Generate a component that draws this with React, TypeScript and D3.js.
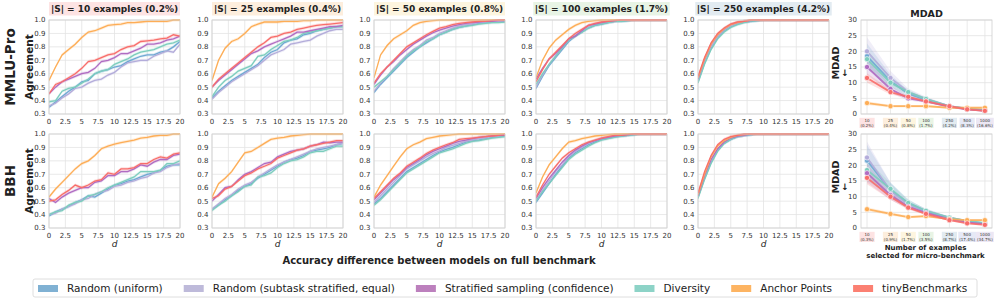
import React, { useEffect, useRef } from 'react';
import * as d3 from 'd3';

// series order: uniform, subtask stratified, stratified (confidence), diversity, anchor points, tinyBenchmarks
const seriesNames = [
  'Random (uniform)',
  'Random (subtask stratified, equal)',
  'Stratified sampling (confidence)',
  'Diversity',
  'Anchor Points',
  'tinyBenchmarks',
];
const swatchColors = ['#80b1d3', '#bebada', '#bc80bd', '#8dd3c7', '#fdb462', '#fb8072'];
const lineColors = ['#6fa8d3', '#b3acda', '#b06cc2', '#7ccdbd', '#fdad56', '#f86d6a'];
const drawOrder = [0, 1, 3, 2, 4, 5];

const dGrid = [0, 1, 2, 3, 4, 5, 6, 7, 8, 9, 10, 11, 12, 13, 14, 15, 16, 17, 18, 19, 20];
const dTicks = [0, 2.5, 5, 7.5, 10, 12.5, 15, 17.5, 20];
const agreementTicks = [0.3, 0.4, 0.5, 0.6, 0.7, 0.8, 0.9, 1.0];
const agreementSpread = 0.012;

const sizes = [10, 25, 50, 100, 250, 500, 1000];
const mmluPct = ['0.2%', '0.4%', '0.8%', '1.7%', '4.2%', '8.3%', '16.6%'];
const bbhPct = ['0.3%', '0.9%', '1.7%', '3.5%', '8.7%', '17.4%', '34.7%'];
const sizeBg = ['#fde3e3', '#fdeedd', '#fdf5df', '#e8f4e5', '#e2ebf1', '#e6e9f6', '#ece7f4'];
const mdadTicks = [0, 5, 10, 15, 20, 25, 30];

// MMLU-Pro agreement curves
const mmlu10 = [
  [0.35, 0.39, 0.43, 0.47, 0.5, 0.54, 0.55, 0.6, 0.62, 0.63, 0.65, 0.66, 0.69, 0.71, 0.73, 0.74, 0.74, 0.76, 0.77, 0.8, 0.84],
  [0.36, 0.38, 0.42, 0.45, 0.49, 0.5, 0.53, 0.55, 0.56, 0.59, 0.61, 0.65, 0.68, 0.69, 0.7, 0.7, 0.73, 0.75, 0.77, 0.76, 0.82],
  [0.45, 0.5, 0.54, 0.56, 0.58, 0.6, 0.61, 0.64, 0.69, 0.7, 0.72, 0.75, 0.75, 0.77, 0.79, 0.82, 0.82, 0.83, 0.85, 0.86, 0.88],
  [0.39, 0.4, 0.47, 0.49, 0.5, 0.53, 0.56, 0.6, 0.62, 0.63, 0.67, 0.69, 0.71, 0.74, 0.76, 0.77, 0.78, 0.8, 0.82, 0.83, 0.85],
  [0.55, 0.65, 0.74, 0.78, 0.82, 0.87, 0.91, 0.92, 0.94, 0.96, 0.965, 0.97, 0.98, 0.98, 0.985, 0.99, 0.99, 0.99, 0.99, 1.0, 1.0],
  [0.45, 0.52, 0.54, 0.57, 0.6, 0.64, 0.69, 0.7, 0.72, 0.74, 0.75, 0.78, 0.8, 0.81, 0.84, 0.845, 0.85, 0.86, 0.865, 0.89, 0.88],
];
const mmlu25 = [
  [0.42, 0.47, 0.51, 0.55, 0.58, 0.61, 0.64, 0.67, 0.72, 0.76, 0.78, 0.83, 0.85, 0.86, 0.89, 0.9, 0.92, 0.93, 0.94, 0.95, 0.95],
  [0.41, 0.46, 0.5, 0.54, 0.57, 0.6, 0.63, 0.66, 0.7, 0.74, 0.76, 0.78, 0.82, 0.83, 0.84, 0.85, 0.88, 0.9, 0.92, 0.93, 0.93],
  [0.5, 0.55, 0.59, 0.63, 0.67, 0.71, 0.75, 0.77, 0.8, 0.82, 0.84, 0.86, 0.88, 0.91, 0.91, 0.92, 0.93, 0.94, 0.95, 0.95, 0.96],
  [0.43, 0.5, 0.55, 0.58, 0.62, 0.64, 0.66, 0.73, 0.74, 0.78, 0.81, 0.84, 0.85, 0.87, 0.9, 0.91, 0.92, 0.93, 0.94, 0.95, 0.95],
  [0.55, 0.7, 0.79, 0.84, 0.86, 0.9, 0.95, 0.97, 0.985, 0.985, 0.985, 0.99, 0.99, 0.99, 0.995, 0.995, 1.0, 1.0, 1.0, 1.0, 1.0],
  [0.5, 0.56, 0.6, 0.64, 0.68, 0.72, 0.76, 0.8, 0.83, 0.87, 0.88, 0.9, 0.91, 0.93, 0.94, 0.95, 0.96, 0.965, 0.97, 0.975, 0.98],
];
const mmlu50 = [
  [0.46, 0.52, 0.57, 0.62, 0.67, 0.72, 0.76, 0.8, 0.83, 0.86, 0.89, 0.91, 0.93, 0.945, 0.955, 0.965, 0.975, 0.98, 0.985, 0.99, 0.99],
  [0.47, 0.53, 0.58, 0.64, 0.69, 0.74, 0.78, 0.81, 0.85, 0.87, 0.9, 0.92, 0.94, 0.955, 0.965, 0.97, 0.98, 0.985, 0.99, 0.99, 0.99],
  [0.52, 0.59, 0.65, 0.69, 0.74, 0.78, 0.82, 0.85, 0.88, 0.905, 0.925, 0.94, 0.955, 0.965, 0.975, 0.98, 0.985, 0.99, 0.99, 0.995, 0.995],
  [0.5, 0.54, 0.58, 0.63, 0.68, 0.73, 0.77, 0.8, 0.84, 0.86, 0.89, 0.91, 0.93, 0.945, 0.955, 0.96, 0.97, 0.975, 0.98, 0.98, 0.985],
  [0.57, 0.74, 0.81, 0.86, 0.89, 0.92, 0.96, 0.98, 0.99, 0.995, 1.0, 1.0, 1.0, 1.0, 1.0, 1.0, 1.0, 1.0, 1.0, 1.0, 1.0],
  [0.53, 0.6, 0.65, 0.7, 0.75, 0.8, 0.83, 0.86, 0.89, 0.915, 0.94, 0.95, 0.965, 0.975, 0.98, 0.985, 0.99, 0.99, 0.995, 1.0, 1.0],
];
const mmlu100 = [
  [0.49, 0.58, 0.66, 0.72, 0.78, 0.84, 0.88, 0.91, 0.94, 0.96, 0.97, 0.98, 0.99, 0.99, 0.995, 1.0, 1.0, 1.0, 1.0, 1.0, 1.0],
  [0.5, 0.59, 0.67, 0.73, 0.79, 0.85, 0.88, 0.92, 0.95, 0.965, 0.975, 0.985, 0.99, 0.995, 1.0, 1.0, 1.0, 1.0, 1.0, 1.0, 1.0],
  [0.56, 0.64, 0.71, 0.75, 0.8, 0.86, 0.88, 0.92, 0.96, 0.97, 0.98, 0.99, 0.995, 1.0, 1.0, 1.0, 1.0, 1.0, 1.0, 1.0, 1.0],
  [0.52, 0.6, 0.67, 0.73, 0.79, 0.85, 0.88, 0.91, 0.94, 0.96, 0.97, 0.98, 0.99, 0.99, 0.995, 1.0, 1.0, 1.0, 1.0, 1.0, 1.0],
  [0.57, 0.7, 0.79, 0.85, 0.89, 0.93, 0.96, 0.98, 0.99, 0.995, 1.0, 1.0, 1.0, 1.0, 1.0, 1.0, 1.0, 1.0, 1.0, 1.0, 1.0],
  [0.54, 0.63, 0.71, 0.76, 0.81, 0.86, 0.9, 0.93, 0.96, 0.975, 0.985, 0.99, 0.995, 1.0, 1.0, 1.0, 1.0, 1.0, 1.0, 1.0, 1.0],
];
const mmlu250 = [
  [0.54, 0.68, 0.79, 0.87, 0.92, 0.95, 0.97, 0.985, 0.99, 0.995, 1.0, 1.0, 1.0, 1.0, 1.0, 1.0, 1.0, 1.0, 1.0, 1.0, 1.0],
  [0.55, 0.69, 0.8, 0.875, 0.925, 0.955, 0.975, 0.985, 0.995, 1.0, 1.0, 1.0, 1.0, 1.0, 1.0, 1.0, 1.0, 1.0, 1.0, 1.0, 1.0],
  [0.56, 0.71, 0.82, 0.89, 0.935, 0.965, 0.98, 0.99, 0.995, 1.0, 1.0, 1.0, 1.0, 1.0, 1.0, 1.0, 1.0, 1.0, 1.0, 1.0, 1.0],
  [0.53, 0.67, 0.78, 0.86, 0.91, 0.945, 0.965, 0.98, 0.99, 0.995, 1.0, 1.0, 1.0, 1.0, 1.0, 1.0, 1.0, 1.0, 1.0, 1.0, 1.0],
  [0.57, 0.71, 0.82, 0.89, 0.935, 0.965, 0.98, 0.99, 1.0, 1.0, 1.0, 1.0, 1.0, 1.0, 1.0, 1.0, 1.0, 1.0, 1.0, 1.0, 1.0],
  [0.58, 0.72, 0.83, 0.9, 0.94, 0.97, 0.985, 0.99, 1.0, 1.0, 1.0, 1.0, 1.0, 1.0, 1.0, 1.0, 1.0, 1.0, 1.0, 1.0, 1.0],
];

// BBH agreement curves
const bbh10 = [
  [0.39, 0.42, 0.44, 0.46, 0.49, 0.51, 0.54, 0.53, 0.56, 0.59, 0.62, 0.63, 0.65, 0.66, 0.68, 0.7, 0.71, 0.73, 0.76, 0.77, 0.77],
  [0.4, 0.41, 0.44, 0.46, 0.48, 0.51, 0.52, 0.55, 0.57, 0.58, 0.61, 0.62, 0.64, 0.65, 0.67, 0.68, 0.71, 0.72, 0.75, 0.77, 0.78],
  [0.52, 0.49, 0.53, 0.56, 0.58, 0.6, 0.6, 0.64, 0.65, 0.69, 0.69, 0.72, 0.72, 0.74, 0.77, 0.76, 0.79, 0.81, 0.81, 0.84, 0.85],
  [0.4, 0.42, 0.43, 0.47, 0.49, 0.5, 0.54, 0.55, 0.57, 0.6, 0.62, 0.64, 0.66, 0.68, 0.72, 0.72, 0.72, 0.73, 0.78, 0.78, 0.8],
  [0.53, 0.59, 0.64, 0.69, 0.74, 0.78, 0.8, 0.84, 0.89, 0.91, 0.925, 0.935, 0.945, 0.955, 0.97, 0.975, 0.985, 0.99, 0.99, 1.0, 1.0],
  [0.5, 0.51, 0.55, 0.58, 0.62, 0.6, 0.62, 0.65, 0.66, 0.71, 0.7, 0.74, 0.74, 0.75, 0.78, 0.78, 0.81, 0.83, 0.82, 0.85, 0.86],
];
const bbh25 = [
  [0.44, 0.47, 0.51, 0.54, 0.58, 0.61, 0.63, 0.67, 0.7, 0.73, 0.76, 0.79, 0.81, 0.82, 0.84, 0.87, 0.88, 0.89, 0.9, 0.92, 0.93],
  [0.44, 0.48, 0.52, 0.55, 0.59, 0.62, 0.64, 0.68, 0.71, 0.74, 0.77, 0.79, 0.81, 0.83, 0.85, 0.87, 0.89, 0.9, 0.91, 0.92, 0.93],
  [0.5, 0.55, 0.6, 0.61, 0.66, 0.7, 0.72, 0.75, 0.78, 0.79, 0.83, 0.85, 0.87, 0.88, 0.89, 0.91, 0.92, 0.94, 0.935, 0.94, 0.94],
  [0.43, 0.47, 0.5, 0.54, 0.57, 0.61, 0.62, 0.68, 0.69, 0.71, 0.75, 0.78, 0.8, 0.81, 0.83, 0.86, 0.87, 0.87, 0.89, 0.91, 0.91],
  [0.53, 0.63, 0.67, 0.72, 0.79, 0.86, 0.87, 0.9, 0.93, 0.96, 0.97, 0.975, 0.985, 0.99, 0.995, 1.0, 1.0, 1.0, 1.0, 1.0, 1.0],
  [0.52, 0.54, 0.59, 0.61, 0.65, 0.69, 0.71, 0.74, 0.76, 0.78, 0.82, 0.84, 0.86, 0.88, 0.89, 0.91, 0.92, 0.93, 0.94, 0.95, 0.95],
];
const bbh50 = [
  [0.48, 0.52, 0.57, 0.62, 0.67, 0.72, 0.75, 0.78, 0.81, 0.84, 0.865, 0.885, 0.9, 0.92, 0.94, 0.95, 0.955, 0.965, 0.975, 0.98, 0.985],
  [0.49, 0.54, 0.59, 0.64, 0.69, 0.74, 0.77, 0.8, 0.83, 0.855, 0.875, 0.9, 0.915, 0.93, 0.945, 0.955, 0.965, 0.97, 0.98, 0.985, 0.99],
  [0.51, 0.56, 0.61, 0.66, 0.7, 0.75, 0.78, 0.81, 0.845, 0.87, 0.89, 0.91, 0.93, 0.945, 0.955, 0.965, 0.975, 0.98, 0.985, 0.99, 0.99],
  [0.47, 0.51, 0.56, 0.61, 0.66, 0.71, 0.74, 0.77, 0.8, 0.83, 0.86, 0.875, 0.89, 0.91, 0.93, 0.945, 0.95, 0.96, 0.97, 0.975, 0.98],
  [0.53, 0.62, 0.69, 0.76, 0.83, 0.89, 0.92, 0.94, 0.965, 0.975, 0.985, 0.99, 0.995, 1.0, 1.0, 1.0, 1.0, 1.0, 1.0, 1.0, 1.0],
  [0.52, 0.57, 0.62, 0.67, 0.71, 0.76, 0.79, 0.82, 0.855, 0.88, 0.9, 0.92, 0.935, 0.96, 0.965, 0.97, 0.975, 0.98, 0.985, 0.99, 0.995],
];
const bbh100 = [
  [0.49, 0.56, 0.63, 0.7, 0.76, 0.82, 0.86, 0.89, 0.92, 0.94, 0.96, 0.97, 0.98, 0.985, 0.99, 0.995, 1.0, 1.0, 1.0, 1.0, 1.0],
  [0.5, 0.58, 0.65, 0.72, 0.77, 0.83, 0.87, 0.9, 0.93, 0.95, 0.965, 0.975, 0.985, 0.99, 0.995, 1.0, 1.0, 1.0, 1.0, 1.0, 1.0],
  [0.52, 0.6, 0.67, 0.73, 0.79, 0.84, 0.88, 0.91, 0.935, 0.95, 0.965, 0.975, 0.985, 0.99, 0.995, 1.0, 1.0, 1.0, 1.0, 1.0, 1.0],
  [0.5, 0.57, 0.63, 0.69, 0.75, 0.81, 0.85, 0.88, 0.91, 0.935, 0.955, 0.965, 0.975, 0.985, 0.99, 0.995, 1.0, 1.0, 1.0, 1.0, 1.0],
  [0.56, 0.68, 0.77, 0.83, 0.89, 0.94, 0.95, 0.965, 0.975, 0.985, 0.99, 0.995, 1.0, 1.0, 1.0, 1.0, 1.0, 1.0, 1.0, 1.0, 1.0],
  [0.53, 0.62, 0.7, 0.76, 0.82, 0.86, 0.89, 0.92, 0.94, 0.955, 0.97, 0.98, 0.99, 0.99, 0.995, 1.0, 1.0, 1.0, 1.0, 1.0, 1.0],
];
const bbh250 = [
  [0.53, 0.67, 0.79, 0.88, 0.93, 0.96, 0.98, 0.99, 0.995, 1.0, 1.0, 1.0, 1.0, 1.0, 1.0, 1.0, 1.0, 1.0, 1.0, 1.0, 1.0],
  [0.53, 0.68, 0.8, 0.88, 0.94, 0.965, 0.98, 0.99, 0.995, 1.0, 1.0, 1.0, 1.0, 1.0, 1.0, 1.0, 1.0, 1.0, 1.0, 1.0, 1.0],
  [0.54, 0.69, 0.81, 0.89, 0.94, 0.97, 0.985, 0.99, 1.0, 1.0, 1.0, 1.0, 1.0, 1.0, 1.0, 1.0, 1.0, 1.0, 1.0, 1.0, 1.0],
  [0.52, 0.66, 0.78, 0.87, 0.93, 0.96, 0.98, 0.99, 0.995, 1.0, 1.0, 1.0, 1.0, 1.0, 1.0, 1.0, 1.0, 1.0, 1.0, 1.0, 1.0],
  [0.55, 0.7, 0.83, 0.91, 0.95, 0.975, 0.99, 0.995, 1.0, 1.0, 1.0, 1.0, 1.0, 1.0, 1.0, 1.0, 1.0, 1.0, 1.0, 1.0, 1.0],
  [0.56, 0.72, 0.84, 0.92, 0.96, 0.98, 0.99, 1.0, 1.0, 1.0, 1.0, 1.0, 1.0, 1.0, 1.0, 1.0, 1.0, 1.0, 1.0, 1.0, 1.0],
];

// MDAD vs number of examples
const mmluMdad = [
  [18.5, 10.5, 6.5, 4.5, 2.5, 1.6, 1.1],
  [20, 11.5, 7, 4.8, 2.5, 1.8, 1.2],
  [15, 8, 5, 4, 2.3, 1.5, 1.0],
  [17.5, 10, 7, 4.8, 2.4, 1.7, 1.2],
  [3.5, 2.5, 2.5, 2.5, 2.0, 2.0, 2.0],
  [11.5, 7, 5.5, 4, 2.5, 1.5, 1.0],
];
const mmluMdadSpread = [
  [4, 2, 1, 0.6, 0.3, 0.2, 0.15],
  [4.5, 2.2, 1.1, 0.7, 0.3, 0.2, 0.15],
  [2.5, 1.2, 0.7, 0.4, 0.2, 0.15, 0.1],
  [3, 1.5, 0.8, 0.5, 0.3, 0.2, 0.15],
  [0.6, 0.4, 0.4, 0.4, 0.3, 0.3, 0.3],
  [1.5, 0.8, 0.5, 0.4, 0.2, 0.15, 0.1],
];
const bbhMdad = [
  [21.5, 12, 8, 5.3, 3.2, 2.0, 1.3],
  [22.5, 12, 7.5, 5.5, 3.3, 2.2, 1.5],
  [17.5, 10.5, 6.8, 4.8, 2.8, 1.8, 1.2],
  [18.5, 12.5, 8, 5.5, 3.3, 2.3, 1.6],
  [6, 4.5, 3.5, 3.8, 2.8, 2.5, 2.5],
  [16, 10, 6.5, 4.5, 2.5, 1.5, 1.0],
];
const bbhMdadSpread = [
  [5, 2.5, 1.2, 0.7, 0.4, 0.25, 0.15],
  [5, 2.5, 1.2, 0.7, 0.4, 0.25, 0.15],
  [3, 1.5, 0.8, 0.5, 0.3, 0.2, 0.1],
  [3.5, 1.8, 1, 0.6, 0.35, 0.25, 0.15],
  [0.6, 0.5, 0.4, 0.4, 0.3, 0.3, 0.3],
  [2, 1, 0.6, 0.4, 0.25, 0.15, 0.1],
];

const rows = [
  { name: 'MMLU-Pro', panels: [mmlu10, mmlu25, mmlu50, mmlu100, mmlu250], mdad: mmluMdad, spread: mmluMdadSpread, pct: mmluPct },
  { name: 'BBH', panels: [bbh10, bbh25, bbh50, bbh100, bbh250], mdad: bbhMdad, spread: bbhMdadSpread, pct: bbhPct },
];

const FONT = 'DejaVu Sans, sans-serif';
const panelLeft = [49, 212, 374, 536, 698];
const panelW = 131;
const panelH = 94;
const rowTop = [20, 134];
const mdadLeft = 861;
const gridColor = '#e3e3e3';
const spineColor = '#d0d0d0';
const tickColor = '#333';

const App = () => {
  const ref = useRef<SVGSVGElement>(null);

  useEffect(() => {
    document.body.style.margin = '0';
    const svg = d3.select(ref.current);
    svg.selectAll('*').remove();

    const defs = svg.append('defs');

    rows.forEach((row, r) => {
      const top = rowTop[r];
      const bottom = top + panelH;

      // agreement panels
      row.panels.forEach((data, c) => {
        const left = panelLeft[c];
        const x = d3.scaleLinear().domain([0, 20]).range([left, left + panelW]);
        const y = d3.scaleLinear().domain([0.3, 1.0]).range([bottom, top]);
        const g = svg.append('g');

        g.selectAll('line.gx').data(dTicks).enter().append('line')
          .attr('x1', d => x(d)).attr('x2', d => x(d)).attr('y1', top).attr('y2', bottom)
          .attr('stroke', gridColor).attr('stroke-width', 0.8);
        g.selectAll('line.gy').data(agreementTicks).enter().append('line')
          .attr('x1', left).attr('x2', left + panelW).attr('y1', d => y(d)).attr('y2', d => y(d))
          .attr('stroke', gridColor).attr('stroke-width', 0.8);

        const clipId = `clip-${r}-${c}`;
        defs.append('clipPath').attr('id', clipId).append('rect')
          .attr('x', left).attr('y', top - 1).attr('width', panelW).attr('height', panelH + 1);
        const lines = g.append('g').attr('clip-path', `url(#${clipId})`);

        const area = d3.area<number>()
          .x((_, j) => x(dGrid[j]))
          .y0(v => y(v - agreementSpread))
          .y1(v => y(v + agreementSpread));
        const line = d3.line<number>().x((_, j) => x(dGrid[j])).y(v => y(v));

        drawOrder.forEach(i => {
          lines.append('path').attr('d', area(data[i]) as string)
            .attr('fill', lineColors[i]).attr('opacity', 0.22);
        });
        drawOrder.forEach(i => {
          lines.append('path').attr('d', line(data[i]) as string)
            .attr('fill', 'none').attr('stroke', lineColors[i]).attr('stroke-width', 1.3);
        });

        g.append('rect').attr('x', left).attr('y', top).attr('width', panelW).attr('height', panelH)
          .attr('fill', 'none').attr('stroke', spineColor).attr('stroke-width', 0.8);

        g.selectAll('text.ty').data(agreementTicks).enter().append('text')
          .attr('x', left - 3.5).attr('y', d => y(d)).attr('dy', '0.35em')
          .attr('text-anchor', 'end').attr('font-family', FONT).attr('font-size', 7)
          .attr('fill', tickColor).text(d => d3.format('.1f')(d));
        g.selectAll('text.tx').data(dTicks).enter().append('text')
          .attr('x', d => x(d)).attr('y', bottom + 9.5)
          .attr('text-anchor', 'middle').attr('font-family', FONT).attr('font-size', 7)
          .attr('fill', tickColor).text(d => String(d));

        if (r === 1) {
          g.append('text').attr('x', left + panelW / 2).attr('y', bottom + 18.5)
            .attr('text-anchor', 'middle').attr('font-family', FONT).attr('font-size', 9)
            .attr('font-style', 'italic').attr('fill', '#222').text('d');
        }

        if (r === 0) {
          const cx = left + panelW / 2;
          const box = g.append('rect').attr('fill', sizeBg[c]);
          const t = g.append('text').attr('x', cx).attr('y', 12)
            .attr('text-anchor', 'middle').attr('font-family', FONT).attr('font-size', 9)
            .attr('font-weight', 'bold').attr('fill', '#222')
            .text(`|S| = ${sizes[c]} examples (${row.pct[c]})`);
          const bb = (t.node() as SVGTextElement).getBBox();
          const bw = Math.max(bb.width + 3, panelW);
          box.attr('x', cx - bw / 2).attr('y', 2).attr('width', bw).attr('height', 13.5);
        }
      });

      // row labels
      const cy = top + panelH / 2;
      svg.append('text').attr('transform', `translate(15,${cy}) rotate(-90)`)
        .attr('text-anchor', 'middle').attr('font-family', FONT).attr('font-size', 13.5)
        .attr('font-weight', 'bold').attr('fill', '#222').text(row.name);
      svg.append('text').attr('transform', `translate(33,${cy}) rotate(-90)`)
        .attr('text-anchor', 'middle').attr('font-family', FONT).attr('font-size', 10.5)
        .attr('font-weight', 'bold').attr('fill', '#222').text('Agreement');

      // MDAD panel
      const mx = d3.scaleLog().domain([7.9, 1320]).range([mdadLeft, mdadLeft + panelW]);
      const my = d3.scaleLinear().domain([0, 30]).range([bottom, top]);
      const mg = svg.append('g');
      mg.selectAll('line.gx').data(sizes).enter().append('line')
        .attr('x1', d => mx(d)).attr('x2', d => mx(d)).attr('y1', top).attr('y2', bottom)
        .attr('stroke', gridColor).attr('stroke-width', 0.8);
      mg.selectAll('line.gy').data(mdadTicks).enter().append('line')
        .attr('x1', mdadLeft).attr('x2', mdadLeft + panelW).attr('y1', d => my(d)).attr('y2', d => my(d))
        .attr('stroke', gridColor).attr('stroke-width', 0.8);

      const marea = (spread: number[]) => d3.area<number>()
        .x((_, j) => mx(sizes[j]))
        .y0((v, j) => my(Math.max(0, v - spread[j])))
        .y1((v, j) => my(v + spread[j]));
      const mline = d3.line<number>().x((_, j) => mx(sizes[j])).y(v => my(v));

      drawOrder.forEach(i => {
        mg.append('path').attr('d', marea(row.spread[i])(row.mdad[i]) as string)
          .attr('fill', lineColors[i]).attr('opacity', 0.2);
      });
      drawOrder.forEach(i => {
        mg.append('path').attr('d', mline(row.mdad[i]) as string)
          .attr('fill', 'none').attr('stroke', lineColors[i]).attr('stroke-width', 1.8).attr('opacity', 0.9);
        mg.selectAll(`circle.s${i}`).data(row.mdad[i]).enter().append('circle')
          .attr('cx', (_, j) => mx(sizes[j])).attr('cy', v => my(v)).attr('r', 2.6)
          .attr('fill', lineColors[i]).attr('stroke', '#fff').attr('stroke-width', 0.6);
      });

      mg.append('rect').attr('x', mdadLeft).attr('y', top).attr('width', panelW).attr('height', panelH)
        .attr('fill', 'none').attr('stroke', spineColor).attr('stroke-width', 0.8);

      mg.selectAll('text.ty').data(mdadTicks).enter().append('text')
        .attr('x', mdadLeft - 4).attr('y', d => my(d)).attr('dy', '0.35em')
        .attr('text-anchor', 'end').attr('font-family', FONT).attr('font-size', 7)
        .attr('fill', tickColor).text(d => String(d));

      sizes.forEach((s, j) => {
        const cx = mx(s);
        const lab = mg.append('g');
        const bg = lab.append('rect').attr('fill', sizeBg[j]);
        const t1 = lab.append('text').attr('x', cx).attr('y', bottom + 7.8)
          .attr('text-anchor', 'middle').attr('font-family', FONT).attr('font-size', 4)
          .attr('fill', '#333').text(String(s));
        const t2 = lab.append('text').attr('x', cx).attr('y', bottom + 12.6)
          .attr('text-anchor', 'middle').attr('font-family', FONT).attr('font-size', 4)
          .attr('fill', '#333').text(`(${row.pct[j]})`);
        const w = Math.max((t1.node() as SVGTextElement).getBBox().width, (t2.node() as SVGTextElement).getBBox().width) + 1.5;
        bg.attr('x', cx - w / 2).attr('y', bottom + 3.8).attr('width', w).attr('height', 10.2);
      });

      svg.append('text').attr('transform', `translate(839,${cy - 4}) rotate(-90)`)
        .attr('text-anchor', 'middle').attr('font-family', FONT).attr('font-size', 9.5)
        .attr('font-weight', 'bold').attr('fill', '#222').text('MDAD');
      svg.append('text').attr('x', 845).attr('y', cy + 9)
        .attr('text-anchor', 'middle').attr('font-family', FONT).attr('font-size', 9)
        .attr('font-weight', 'bold').attr('fill', '#222').text('↓');
    });

    // MDAD title and x label
    svg.append('text').attr('x', mdadLeft + panelW / 2).attr('y', 17)
      .attr('text-anchor', 'middle').attr('font-family', FONT).attr('font-size', 9.5)
      .attr('font-weight', 'bold').attr('fill', '#222').text('MDAD');
    svg.append('text').attr('x', mdadLeft + panelW / 2 - 1).attr('y', 250)
      .attr('text-anchor', 'middle').attr('font-family', FONT).attr('font-size', 7)
      .attr('font-weight', 'bold').attr('fill', '#222').text('Number of examples');
    svg.append('text').attr('x', mdadLeft + panelW / 2 - 1).attr('y', 257.5)
      .attr('text-anchor', 'middle').attr('font-family', FONT).attr('font-size', 7)
      .attr('font-weight', 'bold').attr('fill', '#222').text('selected for micro-benchmark');

    // shared x label
    svg.append('text').attr('x', 439).attr('y', 263.5)
      .attr('text-anchor', 'middle').attr('font-family', FONT).attr('font-size', 10)
      .attr('font-weight', 'bold').attr('fill', '#222')
      .text('Accuracy difference between models on full benchmark');

    // legend
    const lg = svg.append('g');
    lg.append('rect').attr('x', 33).attr('y', 279).attr('width', 944).attr('height', 18).attr('rx', 2)
      .attr('fill', '#fff').attr('stroke', '#d6d6d6').attr('stroke-width', 0.8);
    let lx = 38;
    seriesNames.forEach((name, i) => {
      lg.append('rect').attr('x', lx).attr('y', 285).attr('width', 20).attr('height', 7)
        .attr('fill', swatchColors[i]);
      const t = lg.append('text').attr('x', lx + 29).attr('y', 288).attr('dy', '0.36em')
        .attr('font-family', FONT).attr('font-size', 10.5).attr('fill', '#222').text(name);
      lx += 29 + (t.node() as SVGTextElement).getComputedTextLength() + 21;
    });
  }, []);

  return <svg ref={ref} width={997} height={302} style={{ display: 'block', background: '#fff' }} />;
};

export default App;
